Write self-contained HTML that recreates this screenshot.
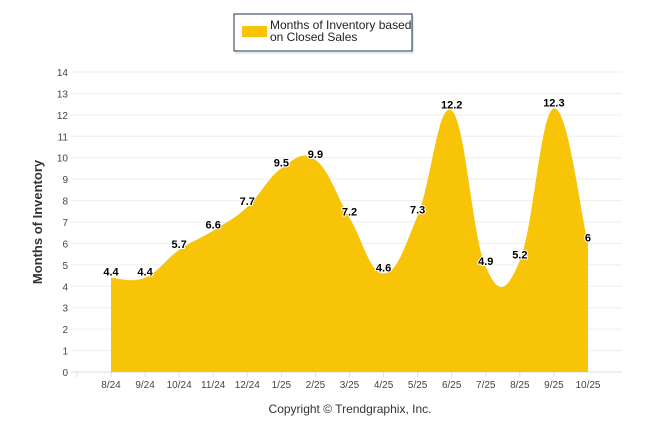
<!DOCTYPE html>
<html><head><meta charset="utf-8"><style>
body{margin:0;background:#fff;width:646px;height:434px;overflow:hidden;font-family:"Liberation Sans",sans-serif}
</style></head><body>
<svg width="646" height="434" xmlns="http://www.w3.org/2000/svg">
<g>
<rect x="236" y="16" width="177" height="37" fill="#fff" stroke="#9aa" stroke-width="1" opacity="0.5"/>
<rect x="234" y="14" width="178" height="37" fill="#fff" stroke="#1f3050" stroke-width="1"/>
<rect x="242" y="26" width="25" height="11" fill="#F7C407"/>
<text x="270" y="29" font-size="12" fill="#222">Months of Inventory based</text>
<text x="270" y="41" font-size="12" fill="#222">on Closed Sales</text>
</g>
<g id="grid"></g>
<g id="yt"></g>
<path id="area" fill="#F7C407"/>
<g id="xt"></g>
<g id="lbl"></g>
<text transform="translate(42,222) rotate(-90)" text-anchor="middle" font-size="13" font-weight="bold" fill="#333">Months of Inventory</text>
<text x="350" y="413" text-anchor="middle" font-size="12" fill="#333">Copyright © Trendgraphix, Inc.</text>
</svg>
<script>
const categories=["8/24","9/24","10/24","11/24","12/24","1/25","2/25","3/25","4/25","5/25","6/25","7/25","8/25","9/25","10/25"];
const values=[4.4,4.4,5.7,6.6,7.7,9.5,9.9,7.2,4.6,7.3,12.2,4.9,5.2,12.3,6];
const yTicks=[0,1,2,3,4,5,6,7,8,9,10,11,12,13,14];
const NS="http://www.w3.org/2000/svg";
const x0=111,dx=34.07,yZero=372,yTop=72,yMax=14;
const X=i=>x0+i*dx, Y=v=>yZero-(v/yMax)*(yZero-yTop);
function mk(t,a,p){const e=document.createElementNS(NS,t);for(const k in a)e.setAttribute(k,a[k]);p.appendChild(e);return e;}
const grid=document.getElementById('grid'),yt=document.getElementById('yt');
yTicks.forEach(v=>{
 const l=mk('line',{x1:71,x2:622,y1:Y(v),y2:Y(v),stroke:v===0?'#ddd':'#eee','stroke-width':1},grid);
 
 
 const t=mk('text',{x:68,y:Y(v)+4,'text-anchor':'end','font-size':10,fill:'#444'},yt);t.textContent=v;
 
 
});
const xt=document.getElementById('xt');
categories.forEach((c,i)=>{
 const tk=mk('line',{x1:X(i)-dx,x2:X(i)-dx,y1:yZero,y2:yZero+5,stroke:'#ddd'},xt);
 
 
 const t=mk('text',{x:X(i),y:388,'text-anchor':'middle','font-size':10,fill:'#444'},xt);t.textContent=c;
 
 
});
const pts=values.map((v,i)=>[X(i),Y(v)]);
const n=pts.length,s=0.2;
let d=`M${pts[0][0]},${yZero} L${pts[0][0]},${pts[0][1]}`;
for(let i=0;i<n-1;i++){
 const p0=pts[Math.max(i-1,0)],p1=pts[i],p2=pts[i+1],p3=pts[Math.min(i+2,n-1)];
 const c1=[p1[0]+(p2[0]-p0[0])*s,p1[1]+(p2[1]-p0[1])*s];
 const c2=[p2[0]-(p3[0]-p1[0])*s,p2[1]-(p3[1]-p1[1])*s];
 d+=` C${c1[0]},${c1[1]} ${c2[0]},${c2[1]} ${p2[0]},${p2[1]}`;
}
d+=` L${pts[n-1][0]},${yZero} Z`;
document.getElementById('area').setAttribute('d',d);
const lbl=document.getElementById('lbl');
values.forEach((v,i)=>{
 const t=mk('text',{x:X(i),y:Y(v)-2,'text-anchor':'middle','font-size':11,'font-weight':'bold',fill:'#000',stroke:'#fff','stroke-width':2,'paint-order':'stroke'},lbl);
 t.textContent=v;
 
 
});
</script>
</body></html>
